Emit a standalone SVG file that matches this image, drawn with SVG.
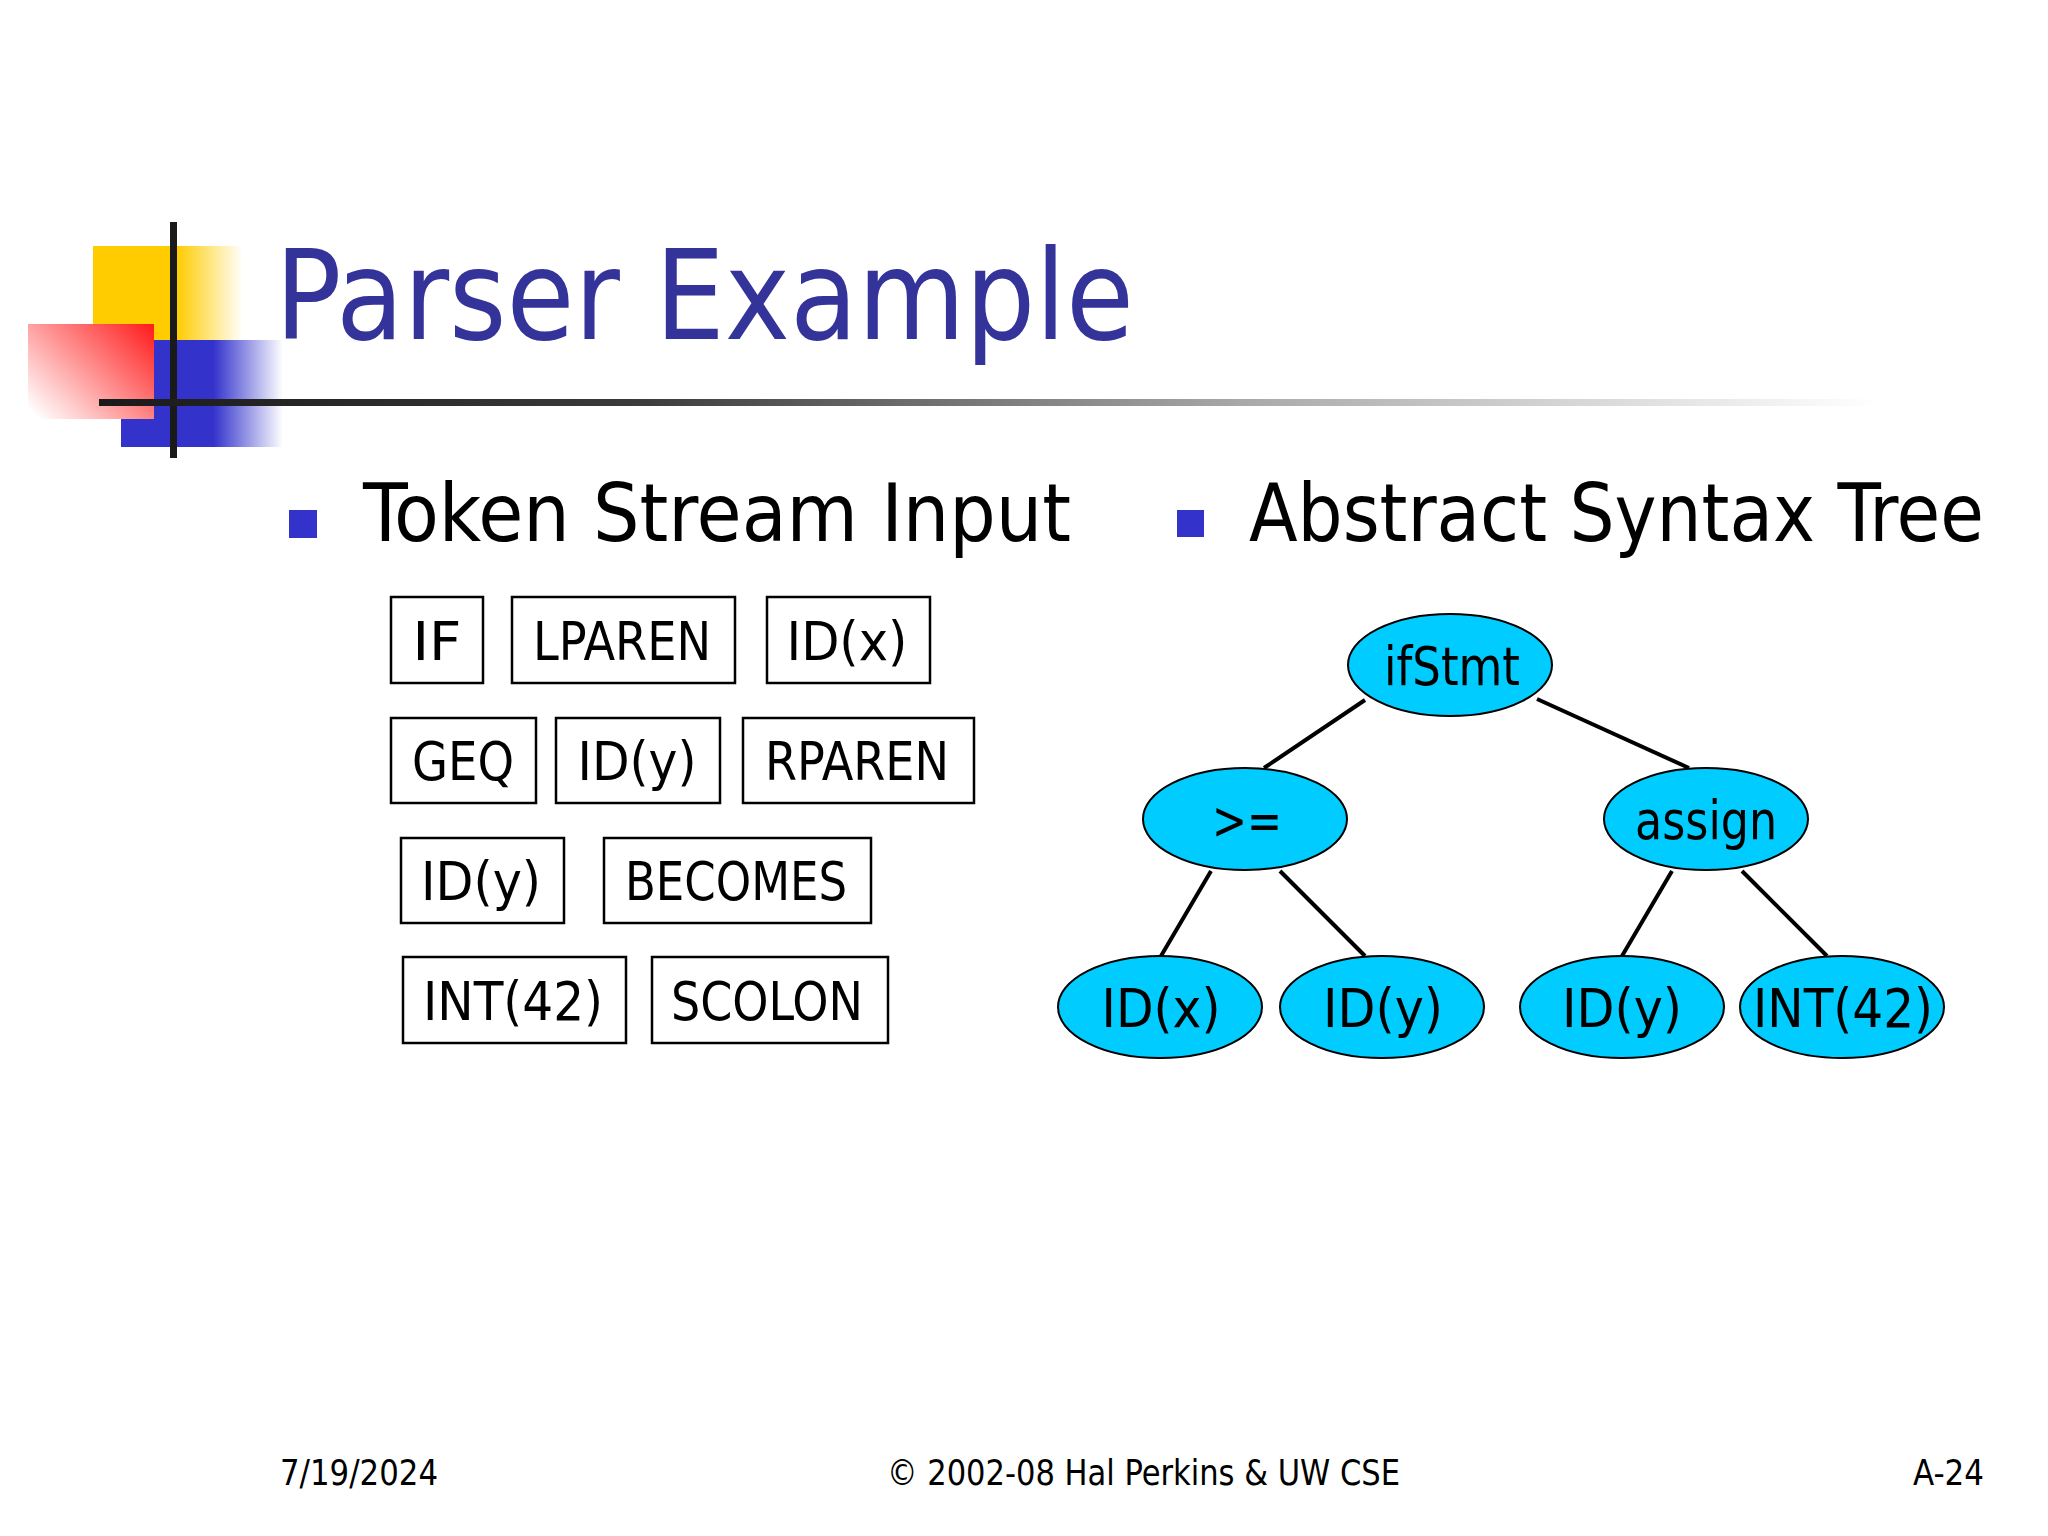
<svg xmlns="http://www.w3.org/2000/svg" width="2048" height="1536" viewBox="0 0 2048 1536">
<defs>
<linearGradient id="gY" x1="93" y1="0" x2="243" y2="0" gradientUnits="userSpaceOnUse">
<stop offset="0" stop-color="#FFCC00"/><stop offset="0.56" stop-color="#FFCC00"/><stop offset="1" stop-color="#FFCC00" stop-opacity="0"/>
</linearGradient>
<linearGradient id="gB" x1="121" y1="0" x2="283" y2="0" gradientUnits="userSpaceOnUse">
<stop offset="0" stop-color="#3333CC"/><stop offset="0.57" stop-color="#3333CC"/><stop offset="1" stop-color="#3333CC" stop-opacity="0"/>
</linearGradient>
<linearGradient id="gR" x1="154" y1="324" x2="50" y2="430" gradientUnits="userSpaceOnUse">
<stop offset="0" stop-color="#FF1A1A"/><stop offset="1" stop-color="#FFFFFF"/>
</linearGradient>
<linearGradient id="gL" x1="99" y1="0" x2="1875" y2="0" gradientUnits="userSpaceOnUse">
<stop offset="0" stop-color="#1A1A1A"/><stop offset="0.3" stop-color="#3A3A3A"/><stop offset="0.65" stop-color="#AAAAAA"/><stop offset="1" stop-color="#FFFFFF"/>
</linearGradient>
<style>
.t{font-family:"DejaVu Sans Condensed","DejaVu Sans","Liberation Sans",sans-serif;font-stretch:condensed;fill:#000}
.title{font-size:125px;fill:#333399}
.b{font-size:81px}
.k{font-size:54px;text-anchor:middle}
.f{font-size:36px}
.box{fill:#fff;stroke:#000;stroke-width:2.5}
.node{fill:#00CCFF;stroke:#000;stroke-width:2}
.edge{stroke:#000;stroke-width:4;fill:none}
.bul{fill:#3333CC}
</style>
</defs>
<rect width="2048" height="1536" fill="#fff"/>
<g id="logo">
<rect x="93" y="246" width="150" height="94" fill="url(#gY)"/>
<rect x="121" y="340" width="162" height="107" fill="url(#gB)"/>
<rect x="28" y="324" width="126" height="95" fill="url(#gR)"/>
<rect x="170" y="222" width="7" height="236" fill="#1A1A1A"/>
<rect x="99" y="399" width="1776" height="7" fill="url(#gL)"/>
</g>
<text class="t title" x="275" y="339" textLength="859" lengthAdjust="spacingAndGlyphs">Parser Example</text>
<g id="bullets">
<rect class="bul" x="289" y="510" width="28" height="28"/>
<text class="t b" x="363" y="541" textLength="708" lengthAdjust="spacingAndGlyphs">Token Stream Input</text>
<rect class="bul" x="1177" y="510" width="27" height="27"/>
<text class="t b" x="1249" y="541" textLength="735" lengthAdjust="spacingAndGlyphs">Abstract Syntax Tree</text>
</g>
<g id="tokens">
<g id="tok-if"><rect class="box" x="391" y="597" width="92" height="86"/><text class="t k" x="437" y="660" textLength="49" lengthAdjust="spacingAndGlyphs">IF</text></g>
<g id="tok-lparen"><rect class="box" x="512" y="597" width="223" height="86"/><text class="t k" x="622" y="660" textLength="178" lengthAdjust="spacingAndGlyphs">LPAREN</text></g>
<g id="tok-idx"><rect class="box" x="767" y="597" width="163" height="86"/><text class="t k" x="847" y="660" textLength="121" lengthAdjust="spacingAndGlyphs">ID(x)</text></g>
<g id="tok-geq"><rect class="box" x="391" y="718" width="145" height="85"/><text class="t k" x="463" y="780" textLength="102" lengthAdjust="spacingAndGlyphs">GEQ</text></g>
<g id="tok-idy1"><rect class="box" x="556" y="718" width="164" height="85"/><text class="t k" x="637" y="780" textLength="119" lengthAdjust="spacingAndGlyphs">ID(y)</text></g>
<g id="tok-rparen"><rect class="box" x="743" y="718" width="231" height="85"/><text class="t k" x="857" y="780" textLength="184" lengthAdjust="spacingAndGlyphs">RPAREN</text></g>
<g id="tok-idy2"><rect class="box" x="401" y="838" width="163" height="85"/><text class="t k" x="481" y="900" textLength="120" lengthAdjust="spacingAndGlyphs">ID(y)</text></g>
<g id="tok-becomes"><rect class="box" x="604" y="838" width="267" height="85"/><text class="t k" x="736" y="900" textLength="222" lengthAdjust="spacingAndGlyphs">BECOMES</text></g>
<g id="tok-int"><rect class="box" x="403" y="957" width="223" height="86"/><text class="t k" x="513" y="1020" textLength="180" lengthAdjust="spacingAndGlyphs">INT(42)</text></g>
<g id="tok-scolon"><rect class="box" x="652" y="957" width="236" height="86"/><text class="t k" x="767" y="1020" textLength="192" lengthAdjust="spacingAndGlyphs">SCOLON</text></g>
</g>
<g id="edges">
<line class="edge" x1="1365" y1="700" x2="1264" y2="768"/>
<line class="edge" x1="1537" y1="699" x2="1689" y2="768"/>
<line class="edge" x1="1211" y1="871" x2="1161" y2="956"/>
<line class="edge" x1="1280" y1="871" x2="1365" y2="956"/>
<line class="edge" x1="1672" y1="871" x2="1622" y2="956"/>
<line class="edge" x1="1742" y1="871" x2="1827" y2="956"/>
</g>
<g id="n-ifstmt"><ellipse class="node" cx="1450" cy="665" rx="102" ry="51"/><text class="t k" x="1452" y="685" textLength="136" lengthAdjust="spacingAndGlyphs">ifStmt</text></g>
<g id="n-geq"><ellipse class="node" cx="1245" cy="819" rx="102" ry="51"/><text class="t k" x="1247" y="839" textLength="70" lengthAdjust="spacingAndGlyphs">&gt;=</text></g>
<g id="n-assign"><ellipse class="node" cx="1706" cy="819" rx="102" ry="51"/><text class="t k" x="1706" y="839" textLength="142" lengthAdjust="spacingAndGlyphs">assign</text></g>
<g id="n-idx"><ellipse class="node" cx="1160" cy="1007" rx="102" ry="51"/><text class="t k" x="1161" y="1027" textLength="119" lengthAdjust="spacingAndGlyphs">ID(x)</text></g>
<g id="n-idy1"><ellipse class="node" cx="1382" cy="1007" rx="102" ry="51"/><text class="t k" x="1383" y="1027" textLength="120" lengthAdjust="spacingAndGlyphs">ID(y)</text></g>
<g id="n-idy2"><ellipse class="node" cx="1622" cy="1007" rx="102" ry="51"/><text class="t k" x="1622" y="1027" textLength="120" lengthAdjust="spacingAndGlyphs">ID(y)</text></g>
<g id="n-int"><ellipse class="node" cx="1842" cy="1007" rx="102" ry="51"/><text class="t k" x="1843" y="1027" textLength="180" lengthAdjust="spacingAndGlyphs">INT(42)</text></g>
<g id="footer">
<text class="t f" x="280" y="1485" textLength="158" lengthAdjust="spacingAndGlyphs">7/19/2024</text>
<text class="t f" x="887" y="1485" textLength="513" lengthAdjust="spacingAndGlyphs">© 2002-08 Hal Perkins &amp; UW CSE</text>
<text class="t f" x="1913" y="1485" textLength="71" lengthAdjust="spacingAndGlyphs">A-24</text>
</g>
</svg>
